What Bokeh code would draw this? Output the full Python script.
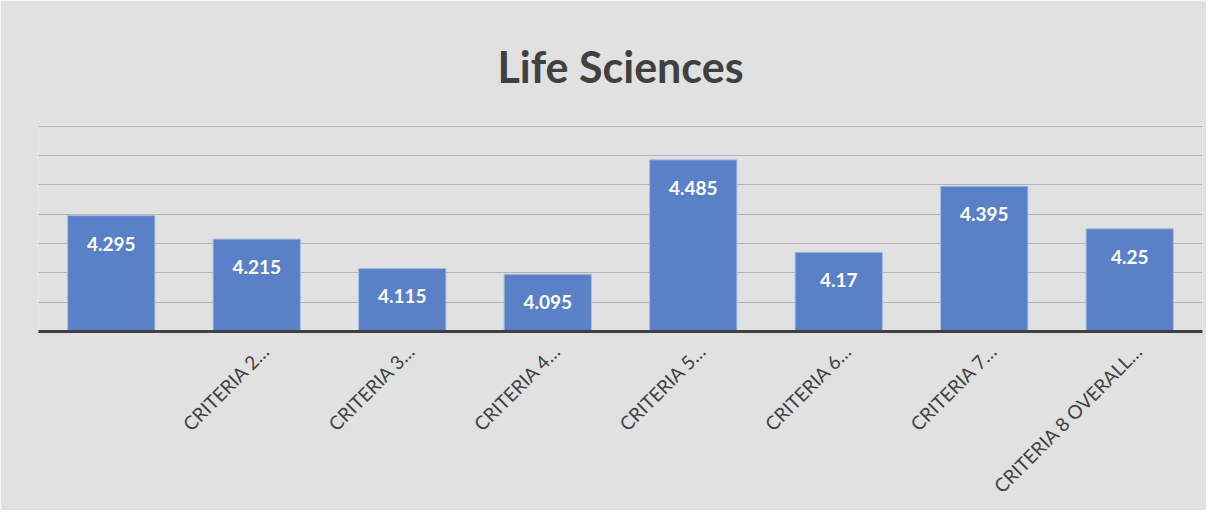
import math
from bokeh.plotting import figure
from bokeh.models import (ColumnDataSource, FixedTicker, Range1d,
                          LinearAxis, CustomJSTickFormatter)
from bokeh.core.properties import value
from bokeh.embed import file_html
from bokeh.resources import INLINE

# ---- data ----
categories = ["CRITERIA 1", "CRITERIA 2", "CRITERIA 3", "CRITERIA 4",
              "CRITERIA 5", "CRITERIA 6", "CRITERIA 7", "CRITERIA 8"]
tick_labels = ["", "CRITERIA 2\u2026", "CRITERIA 3\u2026", "CRITERIA 4\u2026",
               "CRITERIA 5\u2026", "CRITERIA 6\u2026", "CRITERIA 7\u2026",
               "CRITERIA 8 OVERALL\u2026"]
values = [4.295, 4.215, 4.115, 4.095, 4.485, 4.17, 4.395, 4.25]
value_labels = ["4.295", "4.215", "4.115", "4.095", "4.485", "4.17", "4.395", "4.25"]
grid_ticks = [3.9, 4.0, 4.1, 4.2, 4.3, 4.4, 4.5, 4.6]
title_text = "Life Sciences"

BG = "#e1e1e1"
W, H = 1206, 510
n = len(categories)

# category slots: bar i sits in the middle of slot i
xpos = [i + 0.5 for i in range(n)]
src = ColumnDataSource(dict(x=xpos, cat=categories, val=values, lab=value_labels))

p = figure(width=W, height=H, x_range=Range1d(0, n),
           y_range=Range1d(3.9, 4.602), output_backend="svg",
           toolbar_location=None, min_border_left=38, min_border_right=4,
           min_border_top=125, min_border_bottom=179)
p.background_fill_color = BG
p.border_fill_color = BG
p.outline_line_color = None

p.vbar(x="x", top="val", bottom=3.9, width=0.6, source=src,
       fill_color="#5a80c8", line_color="#a6bce6", line_width=1)

p.text(x="x", y="val", text="lab", source=src, y_offset=28,
       text_align="center", text_baseline="middle",
       text_font=value("Lato"), text_font_style="bold",
       text_font_size="19px", text_color="white")

# axes
p.yaxis.visible = False
p.xaxis.visible = False
p.ygrid.ticker = FixedTicker(ticks=grid_ticks)
p.ygrid.grid_line_color = "#b4b4b4"
p.ygrid.grid_line_width = 1
p.xgrid.grid_line_color = None

# label axis: range shifted slightly so rotated labels sit like Excel's
p.extra_x_ranges = {"lab": Range1d(-0.06, n - 0.06)}
xa = LinearAxis(x_range_name="lab",
                ticker=FixedTicker(ticks=xpos),
                formatter=CustomJSTickFormatter(args=dict(labels=tick_labels),
                                                code="return labels[Math.floor(tick)];"))
xa.axis_line_color = "#404040"
xa.axis_line_width = 3
xa.major_tick_line_color = None
xa.minor_tick_line_color = None
xa.major_label_orientation = math.pi / 4
xa.major_label_standoff = 10
xa.major_label_text_font = "Lato"
xa.major_label_text_font_size = "19px"
xa.major_label_text_color = "#404040"
p.add_layout(xa, "below")

p.title.text = title_text
p.title.align = "center"
p.title.text_font = "Lato"
p.title.text_font_style = "bold"
p.title.text_font_size = "43px"
p.title.text_color = "#404040"
p.title.standoff = 68

open("out.html", "w").write(file_html(p, INLINE))
